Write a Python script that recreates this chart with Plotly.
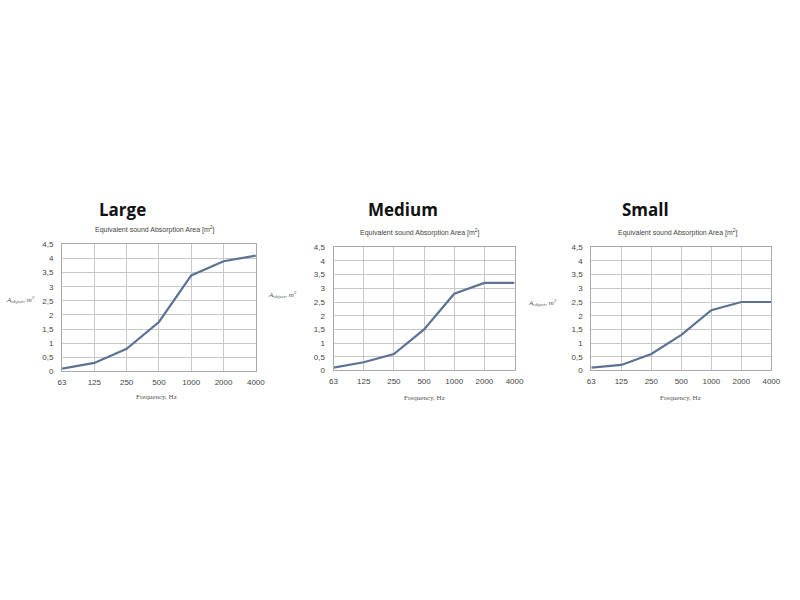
import plotly.graph_objects as go

freqs = ["63", "125", "250", "500", "1000", "2000", "4000"]
large = [0.1, 0.3, 0.8, 1.75, 3.4, 3.9, 4.1]
medium = [0.1, 0.3, 0.6, 1.5, 2.8, 3.2, 3.2]
small = [0.1, 0.2, 0.6, 1.3, 2.2, 2.5, 2.5]
panel_titles = ["Large", "Medium", "Small"]
yticks = [0, 0.5, 1, 1.5, 2, 2.5, 3, 3.5, 4, 4.5]
yticktext = ["0", "0,5", "1", "1,5", "2", "2,5", "3", "3,5", "4", "4,5"]

W, H = 800, 600
# plot areas in pixels: (x0, x1, ytop, ybottom)
boxes = [(59, 256, 244, 373), (335, 519, 247, 372), (597, 780, 247, 372)]
title_pos = [(120, 209), (406, 209), (652, 209)]
sub_pos = [(154, 229), (423, 232), (685, 232)]
xlab_pos = [(155, 399), (427, 400), (688, 400)]
ylab_pos = [(17, 300), (283, 295), (547, 303)]
series = [large, medium, small]

fig = go.Figure()
line_color = "#5b7295"
grid_color = "#c8c8c8"
tick_font = dict(family="Liberation Sans, Arial, sans-serif", size=8, color="#444")


def ann(text, px, py, font):
    fig.add_annotation(text=text, x=px / W, y=1 - py / H, xref="paper", yref="paper",
                       xanchor="center", yanchor="middle", showarrow=False, font=font)


for i, (b, ys) in enumerate(zip(boxes, series)):
    n = "" if i == 0 else str(i + 1)
    x0, x1, yt, yb = b
    fig.add_trace(go.Scatter(x=freqs, y=ys, mode="lines",
                             line=dict(color=line_color, width=2.2),
                             xaxis="x" + n, yaxis="y" + n, showlegend=False))
    fig.layout["xaxis" + n] = dict(
        domain=[x0 / W, x1 / W], anchor="y" + n, type="category",
        range=[0, 6], showgrid=True, gridcolor=grid_color, gridwidth=1,
        showline=True, linecolor="#aaa", mirror=True, ticks="",
        tickfont=tick_font, zeroline=False, fixedrange=True,
        ticklabelstandoff=3)
    fig.layout["yaxis" + n] = dict(
        domain=[1 - yb / H, 1 - yt / H], anchor="x" + n,
        range=[0, 4.5], tickvals=yticks, ticktext=yticktext,
        showgrid=True, gridcolor=grid_color, gridwidth=1,
        showline=True, linecolor="#aaa", mirror=True, ticks="",
        tickfont=tick_font, zeroline=False, fixedrange=True,
        ticklabelstandoff=6)

    ann("<b>" + panel_titles[i] + "</b>", *title_pos[i],
        dict(family="Open Sans, Arial, sans-serif", size=17, color="#111"))
    ann("Equivalent sound Absorption Area [m<sup>2</sup>]", *sub_pos[i],
        dict(family="Liberation Sans, Arial, sans-serif", size=7, color="#444"))
    ann("Frequency, Hz", *xlab_pos[i],
        dict(family="Liberation Serif, serif", size=7, color="#555"))
    ann("<i>A<sub>object</sub>, m<sup>2</sup></i>", *ylab_pos[i],
        dict(family="Liberation Serif, serif", size=7, color="#555"))

fig.update_layout(width=W, height=H, margin=dict(l=0, r=0, t=0, b=0),
                  paper_bgcolor="white", plot_bgcolor="white")
fig.write_html("out.html")
